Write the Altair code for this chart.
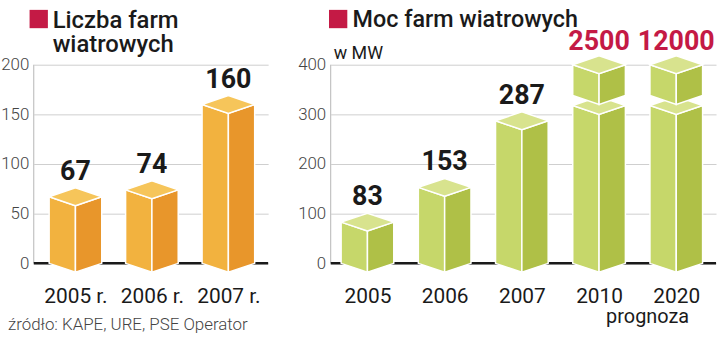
import json
import altair as alt
import pandas as pd

# ---------------- data ----------------
farm_years = ["2005 r.", "2006 r.", "2007 r."]
farm_counts = [67, 74, 160]

power_years = ["2005", "2006", "2007", "2010", "2020"]
power_mw = [83, 153, 287, 2500, 12000]
power_forecast = [False, False, False, True, True]

left_ticks = [0, 50, 100, 150, 200]
right_ticks = [0, 100, 200, 300, 400]

left_title_lines = ["Liczba farm", "wiatrowych"]
right_title = "Moc farm wiatrowych"
right_unit = "w MW"
forecast_note = "prognoza"
source_note = "źródło: KAPE, URE, PSE Operator"

# ---------------- style ----------------
FONT = "Roboto"
INK = "#1a1a1a"
CRIMSON = "#C41A45"
GRID = "#cfcfcf"
ORANGE = ["#F2B23F", "#E8962B", "#F6C55A"]
GREEN = ["#C6D76A", "#AFC047", "#D8E38E"]
FACES = ["left", "right", "top"]

H = 212
LW, RW = 236, 388


def prisms(values, half_w, depth, axis_max, break_lo, break_hi):
    rows = []
    for i, v in enumerate(values):
        if v > axis_max:
            segs = [(0, break_lo, 0), (break_hi, axis_max, 1)]
        else:
            segs = [(0, v, 0)]
        for lo, hi, seg in segs:
            c = i
            shapes = {
                "left": [(c - half_w, hi, lo), (c, hi - depth, lo - depth)],
                "right": [(c, hi - depth, lo - depth), (c + half_w, hi, lo)],
                "top": [(c - half_w, hi, hi), (c, hi + depth, hi - depth), (c + half_w, hi, hi)],
            }
            for face, pts in shapes.items():
                for x, yt, yb in pts:
                    rows.append(dict(poly=f"{i}-{seg}-{face}", face=face, seg=seg,
                                     px=x, ytop=yt, ybot=yb))
    return pd.DataFrame(rows)


def panel(labels, values, ticks, ymin, xdom, colors, half_w, depth,
          break_lo=None, break_hi=None):
    axis_max = ticks[-1]
    poly = prisms(values, half_w, depth, axis_max, break_lo, break_hi)
    xscale = alt.Scale(domain=xdom, nice=False, zero=False)
    yscale = alt.Scale(domain=[ymin, axis_max], nice=False, zero=False)
    label_expr = json.dumps(labels) + "[datum.value]"

    xaxis = alt.Axis(values=list(range(len(labels))), labelExpr=label_expr,
                     grid=False, domain=False, ticks=False, title=None,
                     labelFontSize=21, labelColor=INK, labelFont=FONT,
                     labelBaseline="alphabetic", labelPadding=27,
                     labelFlush=False, labelOverlap=False, labelBound=False)
    yaxis = alt.Axis(values=ticks, grid=True, gridColor=GRID, gridWidth=1,
                     domain=False, ticks=False, title=None,
                     labelFontSize=17, labelFontWeight=300, labelColor="#444",
                     labelFont=FONT, labelPadding=5)

    base = alt.Chart(poly)
    face_layers = []
    for seg in (0, 1):
        for face, col in zip(FACES, colors):
            xenc = alt.X("px:Q", scale=xscale, axis=xaxis)
            yenc = alt.Y("ytop:Q", scale=yscale, stack=None, axis=yaxis)
            face_layers.append(
                base.transform_filter(
                    f"datum.seg == {seg} && datum.face == '{face}'"
                ).mark_area(
                    orient="vertical", fill=col, fillOpacity=1, stroke="white",
                    strokeWidth=1.5, interpolate="linear"
                ).encode(x=xenc, y=yenc, y2="ybot:Q", detail="poly:N")
            )

    lab = pd.DataFrame({
        "i": list(range(len(values))),
        "yl": [min(v, axis_max) for v in values],
        "t": [str(v) for v in values],
        "big": [v > axis_max for v in values],
    })
    labels_normal = alt.Chart(lab).transform_filter("!datum.big").mark_text(
        font=FONT, fontSize=27, fontWeight="bold", color=INK, baseline="alphabetic", dy=-17
    ).encode(x="i:Q", y="yl:Q", text="t:N")
    labels_big = alt.Chart(lab).transform_filter("datum.big").mark_text(
        font=FONT, fontSize=27, fontWeight="bold", color=CRIMSON, baseline="alphabetic", dy=-15
    ).encode(x="i:Q", y="yl:Q", text="t:N")

    one = pd.DataFrame({"z": [0]})
    vaxis = alt.Chart(one).mark_rule(color="#b5b5b5", strokeWidth=1).encode(
        x=alt.value(0), y=alt.datum(0), y2=alt.datum(axis_max))
    zero = alt.Chart(one).mark_rule(color=INK, strokeWidth=2.5).encode(y=alt.datum(0))

    return [vaxis, zero] + face_layers + [labels_normal, labels_big]


# ---------------- left panel ----------------
left_layers = panel(farm_years, farm_counts, left_ticks, -12, [-0.545, 2.52],
                    ORANGE, 0.344, 9)
tdf = pd.DataFrame({"t": left_title_lines, "line": list(range(len(left_title_lines)))})
left_square = alt.Chart(tdf.head(1)).mark_square(size=340, color=CRIMSON, opacity=1).encode(
    x=alt.value(5), y=alt.value(-46))
left_title_1 = alt.Chart(tdf).transform_filter("datum.line == 0").mark_text(
    font=FONT, fontSize=24, fontWeight=500, color=INK, align="left", baseline="alphabetic"
).encode(x=alt.value(19), y=alt.value(-37), text="t:N")
left_title_2 = alt.Chart(tdf).transform_filter("datum.line == 1").mark_text(
    font=FONT, fontSize=24, fontWeight=500, color=INK, align="left", baseline="alphabetic"
).encode(x=alt.value(19), y=alt.value(-13), text="t:N")
src = alt.Chart(pd.DataFrame({"t": [source_note]})).mark_text(
    font=FONT, fontSize=17, fontWeight=300, color="#444", align="left", baseline="alphabetic"
).encode(x=alt.value(-26), y=alt.value(267), text="t:N")

left = alt.layer(*left_layers, left_square, left_title_1, left_title_2, src).properties(
    width=LW, height=H)

# ---------------- right panel ----------------
right_layers = panel(power_years, power_mw, right_ticks, -24, [-0.476, 4.515],
                     GREEN, 0.341, 18, break_lo=318, break_hi=338)
rdf = pd.DataFrame({"t": [right_title]})
right_square = alt.Chart(rdf).mark_square(size=340, color=CRIMSON, opacity=1).encode(
    x=alt.value(7.5), y=alt.value(-46))
right_title_t = alt.Chart(rdf).mark_text(
    font=FONT, fontSize=23.5, fontWeight=500, color=INK, align="left", baseline="alphabetic"
).encode(x=alt.value(22), y=alt.value(-38), text="t:N")
unit = alt.Chart(pd.DataFrame({"t": [right_unit]})).mark_text(
    font=FONT, fontSize=18, color=INK, align="left", baseline="alphabetic"
).encode(x=alt.value(3), y=alt.value(-6), text="t:N")
fc_idx = [i for i, f in enumerate(power_forecast) if f]
note = alt.Chart(pd.DataFrame({"t": [forecast_note], "x": [sum(fc_idx) / len(fc_idx)]})).mark_text(
    font=FONT, fontSize=20, color=INK, align="center", baseline="alphabetic", dx=10
).encode(x="x:Q", y=alt.value(260), text="t:N")

right = alt.layer(*right_layers, right_square, right_title_t, unit, note).properties(
    width=RW, height=H)

chart = alt.hconcat(left, right, spacing=27).resolve_scale(
    x="independent", y="independent"
).configure_view(stroke=None).properties(
    padding={"left": 0, "top": 7, "right": 2, "bottom": 0}, background="white"
)

chart.save("out.html", embed_options={"renderer": "svg", "actions": False})
